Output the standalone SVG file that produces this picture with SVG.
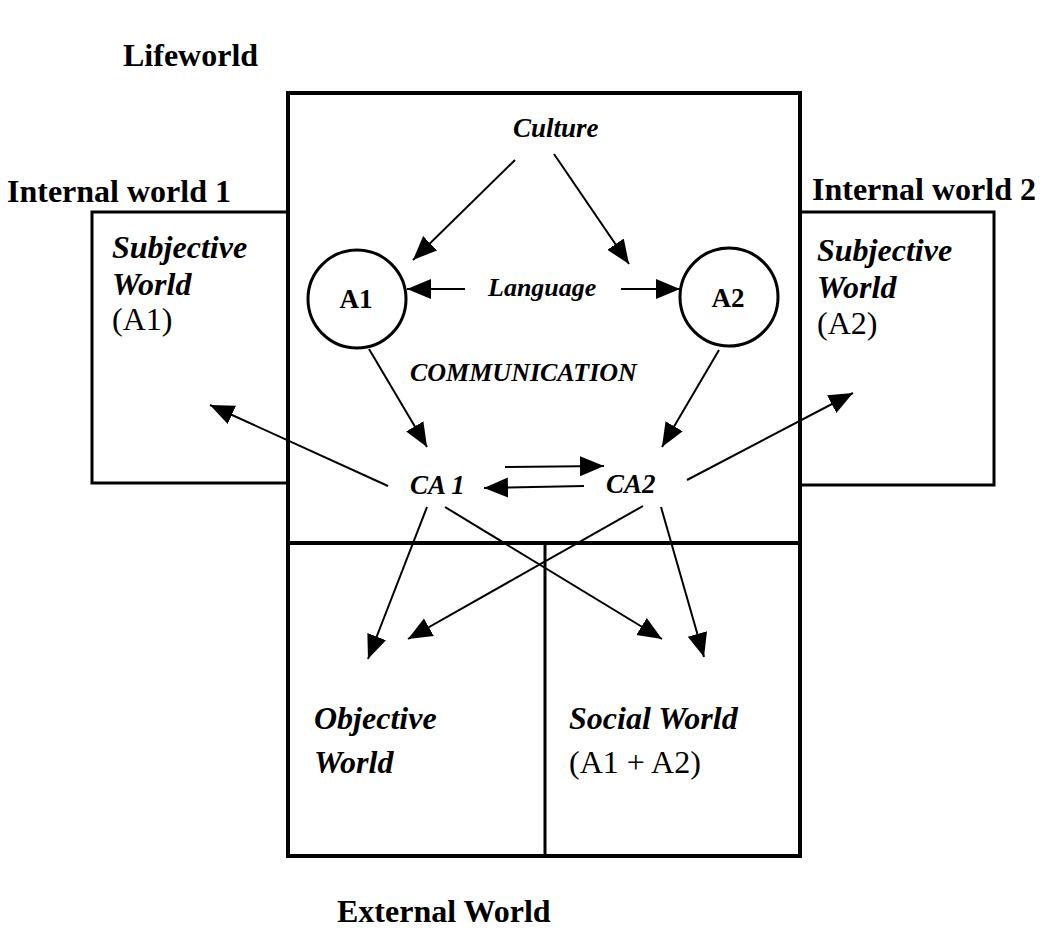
<svg xmlns="http://www.w3.org/2000/svg" width="1046" height="938" viewBox="0 0 1046 938">
<defs>
<style>
.box{fill:none;stroke:#000;}
.t{font-family:"Liberation Serif","Times New Roman",serif;fill:#000;}
.b{font-weight:bold;}
.i{font-style:italic;}
.s32{font-size:32px;}
.s27{font-size:27px;}
.s26{font-size:26px;}
.c line{stroke:#000;stroke-width:2;marker-end:url(#ah);}
</style>
<marker id="ah" markerUnits="userSpaceOnUse" markerWidth="26" markerHeight="22" refX="24" refY="10" orient="auto">
<path d="M0,0 L24,10 L0,20 z" fill="#000"/>
</marker>
</defs>
<rect width="1046" height="938" fill="#fff"/>
<text class="t b s32" x="123" y="66">Lifeworld</text>
<text class="t b s32" x="337" y="922">External World</text>
<g id="internal1">
<rect class="box" x="92" y="212" width="196" height="271" stroke-width="3"/>
<text class="t b s32" x="7" y="202">Internal world 1</text>
<text class="t b i s32" x="112" y="258">Subjective</text>
<text class="t b i s32" x="112" y="295">World</text>
<text class="t s32" x="112" y="330">(A1)</text>
</g>
<g id="internal2">
<rect class="box" x="800" y="212" width="194" height="273" stroke-width="3"/>
<text class="t b s32" x="812" y="200">Internal world 2</text>
<text class="t b i s32" x="817" y="261">Subjective</text>
<text class="t b i s32" x="817" y="298">World</text>
<text class="t s32" x="817" y="334">(A2)</text>
</g>
<g id="lifeworld">
<rect class="box" x="288" y="93" width="512" height="450" stroke-width="4" fill="#fff"/>
<text class="t b i s27" x="513" y="137">Culture</text>
<text class="t b i s26" x="488" y="296">Language</text>
<text class="t b i s26" x="410" y="381">COMMUNICATION</text>
</g>
<g id="external">
<rect class="box" x="288" y="543" width="512" height="313" stroke-width="4"/>
<line x1="545" y1="543" x2="545" y2="856" stroke="#000" stroke-width="3"/>
</g>
<g id="objective">
<text class="t b i s32" x="314" y="729">Objective</text>
<text class="t b i s32" x="314" y="773">World</text>
</g>
<g id="social">
<text class="t b i s32" x="569" y="729">Social World</text>
<text class="t s32" x="569" y="773">(A1 + A2)</text>
</g>
<g id="a1">
<circle cx="357" cy="299" r="49" fill="none" stroke="#000" stroke-width="3"/>
<text class="t b s27" x="356" y="308" text-anchor="middle">A1</text>
</g>
<g id="a2">
<circle cx="729" cy="297" r="49" fill="none" stroke="#000" stroke-width="3"/>
<text class="t b s27" x="728" y="307" text-anchor="middle">A2</text>
</g>
<g id="ca1">
<text class="t b i s27" x="410" y="494">CA 1</text>
</g>
<g id="ca2">
<text class="t b i s27" x="606" y="493">CA2</text>
</g>
<g id="connectors" class="c">
<line x1="515" y1="160" x2="413" y2="260"/>
<line x1="554" y1="154" x2="629" y2="264"/>
<line x1="465" y1="289" x2="407" y2="289"/>
<line x1="621" y1="289" x2="680" y2="289"/>
<line x1="369" y1="349" x2="427" y2="447"/>
<line x1="719" y1="350" x2="662" y2="447"/>
<line x1="505" y1="467" x2="604" y2="466"/>
<line x1="584" y1="486" x2="484" y2="488"/>
<line x1="388" y1="486" x2="210" y2="405"/>
<line x1="687" y1="480" x2="853" y2="393"/>
<line x1="427" y1="507" x2="368" y2="659"/>
<line x1="445" y1="507" x2="662" y2="639"/>
<line x1="643" y1="506" x2="408" y2="639"/>
<line x1="661" y1="507" x2="704" y2="657"/>
</g>
</svg>
